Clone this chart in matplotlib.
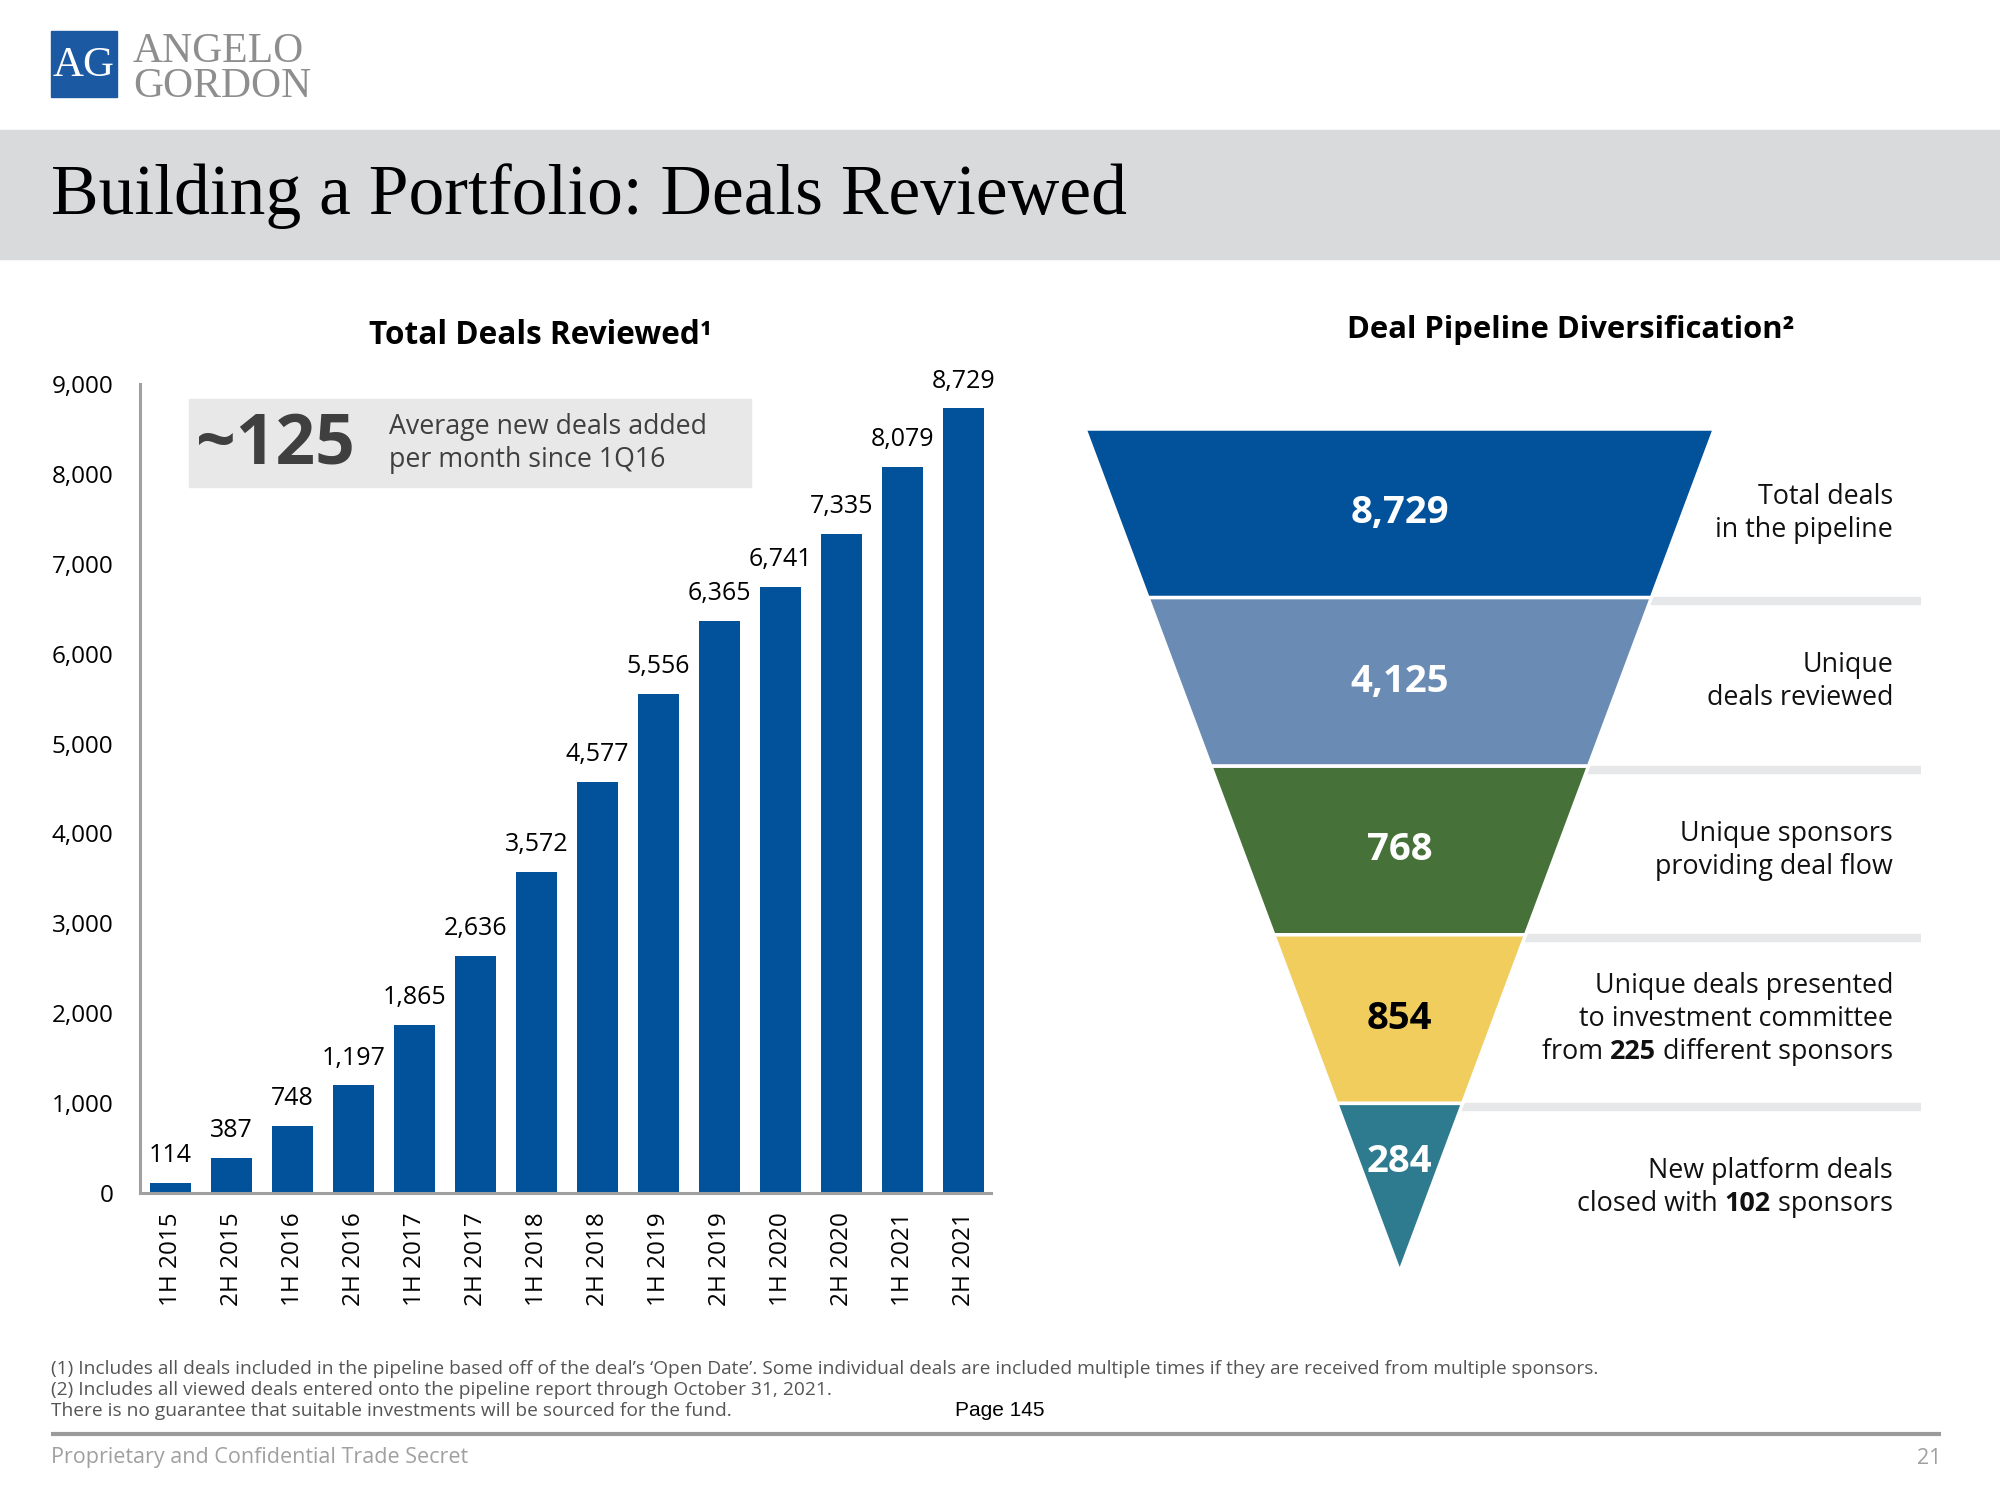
import matplotlib
matplotlib.use("Agg")
import matplotlib.pyplot as plt
from matplotlib.patches import Rectangle, Polygon
from matplotlib.ticker import FuncFormatter
from matplotlib.transforms import IdentityTransform

plt.rcParams['font.family'] = ['Open Sans', 'DejaVu Sans']

# bar chart data
periods = ['1H 2015', '2H 2015', '1H 2016', '2H 2016', '1H 2017', '2H 2017', '1H 2018',
           '2H 2018', '1H 2019', '2H 2019', '1H 2020', '2H 2020', '1H 2021', '2H 2021']
deals = [114, 387, 748, 1197, 1865, 2636, 3572, 4577, 5556, 6365, 6741, 7335, 8079, 8729]

# funnel data
stage_values = [8729, 4125, 768, 854, 284]
stage_colors = ['#02529B', '#6A8BB3', '#467239', '#F0CD5D', '#2E7B90']
stage_text_colors = ['white', 'white', 'white', 'black', 'white']
stage_desc = [
    [[('Total deals', 'normal')], [('in the pipeline', 'normal')]],
    [[('Unique', 'normal')], [('deals reviewed', 'normal')]],
    [[('Unique sponsors', 'normal')], [('providing deal flow', 'normal')]],
    [[('Unique deals presented', 'normal')], [('to investment committee', 'normal')],
     [('from ', 'normal'), ('225', 'bold'), (' different sponsors', 'normal')]],
    [[('New platform deals', 'normal')],
     [('closed with ', 'normal'), ('102', 'bold'), (' sponsors', 'normal')]],
]

footnotes = [
    "(1) Includes all deals included in the pipeline based off of the deal\u2019s \u2018Open Date\u2019. "
    "Some individual deals are included multiple times if they are received from multiple sponsors.",
    "(2) Includes all viewed deals entered onto the pipeline report through October 31, 2021.",
    "There is no guarantee that suitable investments will be sourced for the fund.",
]

fig = plt.figure(figsize=(20, 15), dpi=100)

# background / page decoration in pixel coordinates
bg = fig.add_axes([0, 0, 1, 1])
bg.set_xlim(0, 2000)
bg.set_ylim(1500, 0)
bg.axis('off')

# logo
bg.add_patch(Rectangle((51, 31), 66, 66, color='#1B59A3'))
bg.text(84, 66, 'AG', color='white', fontsize=31, family='Liberation Serif',
        ha='center', va='center')
bg.text(133, 62, 'ANGELO', color='#8E8E8E', fontsize=30, family='Liberation Serif',
        ha='left', va='baseline')
bg.text(133, 97, 'GORDON', color='#8E8E8E', fontsize=30, family='Liberation Serif',
        ha='left', va='baseline')

# title band
bg.add_patch(Rectangle((0, 130), 2000, 129, color='#D9DADB'))
bg.text(51, 214, 'Building a Portfolio: Deals Reviewed', fontsize=51.5,
        family='Liberation Serif', color='black', ha='left', va='baseline')

# chart titles
bg.text(540, 335, 'Total Deals Reviewed\u00b9', fontsize=22.7, fontweight='bold',
        ha='center', va='center')
bg.text(1571, 330, 'Deal Pipeline Diversification\u00b2', fontsize=22.3, fontweight='bold',
        ha='center', va='center')

# callout box
bg.add_patch(Rectangle((189, 399), 562, 88, color='#E8E8E8'))
bg.text(196, 445, '~125', fontsize=50, fontweight='bold', color='#3F3F3F',
        ha='left', va='center')
bg.text(389, 427, 'Average new deals added', fontsize=19.3, color='#3F3F3F',
        ha='left', va='center')
bg.text(389, 460, 'per month since 1Q16', fontsize=19.3, color='#3F3F3F',
        ha='left', va='center')

# footnotes and footer
for i, line in enumerate(footnotes):
    bg.text(51, 1369 + i * 21, line, fontsize=13.8, color='#555555',
            ha='left', va='center')
bg.text(1000, 1411, 'Page 145', fontsize=15, family='Liberation Sans',
        color='black', ha='center', va='center')
bg.plot([51, 1941], [1434, 1434], color='#9A9A9A', lw=3, solid_capstyle='butt')
bg.text(51, 1458, 'Proprietary and Confidential Trade Secret', fontsize=15.5,
        color='#A0A0A0', ha='left', va='center')
bg.text(1941, 1458, '21', fontsize=15.5, color='#A0A0A0', ha='right', va='center')

# bar chart
ax = fig.add_axes([0.07, 0.2047, 0.4255, 0.5393])
ax.patch.set_visible(False)
x = range(len(periods))
ax.bar(x, deals, width=0.67, color='#02529B', zorder=2)
for xi, v in zip(x, deals):
    ax.annotate(f'{v:,}', (xi, v), xytext=(0, 15), textcoords='offset points',
                ha='center', va='baseline', fontsize=18, color='black')
ax.set_xlim(-0.5, 13.45)
ax.set_ylim(0, 9000)
ax.set_yticks(range(0, 9001, 1000))
ax.yaxis.set_major_formatter(FuncFormatter(lambda v, p: f'{int(v):,}'))
ax.set_xticks(list(x))
ax.set_xticklabels(periods, rotation=90, fontsize=17.5)
ax.tick_params(axis='y', length=0, pad=19, labelsize=17.5)
ax.tick_params(axis='x', length=0, pad=14)
for s in ['top', 'right']:
    ax.spines[s].set_visible(False)
for s in ['left', 'bottom']:
    ax.spines[s].set_color('#A0A0A0')
    ax.spines[s].set_linewidth(2.2)

# funnel: triangle split into equal-height bands, top half-width = 1
n = len(stage_values)
fax = fig.add_axes([1085 / 2000, 1 - 1272 / 1500, (1921 - 1085) / 2000, (1272 - 429) / 1500])
fax.set_xlim(-1, (1921 - 1400) / 314.5)
fax.set_ylim(n, 0)
fax.axis('off')

def half_width(y):
    return (n - y) / n

for i in range(1, n):
    fax.plot([0, 2], [i + 0.02, i + 0.02], color='#E6E7E8', lw=6, zorder=1,
             solid_capstyle='butt')

for i, (val, col, tcol) in enumerate(zip(stage_values, stage_colors, stage_text_colors)):
    w0, w1 = half_width(i), half_width(i + 1)
    fax.add_patch(Polygon([(-w0, i), (w0, i), (w1, i + 1), (-w1, i + 1)],
                          closed=True, facecolor=col, edgecolor='white', lw=2.5, zorder=2))
    ty = i + 0.5 if i < n - 1 else i + 0.35
    fax.text(0, ty, f'{val:,}', color=tcol, fontsize=27.5, fontweight='bold',
             ha='center', va='center', zorder=3)

# right-aligned descriptions with bold runs
fig.canvas.draw()
renderer = fig.canvas.get_renderer()
line_h = 33
desc_x = (1893 - 1400) / 314.5
for i, lines in enumerate(stage_desc):
    cx, cy = fax.transData.transform((desc_x, i + 0.5))
    nl = len(lines)
    for j, parts in enumerate(lines):
        ypix = cy + ((nl - 1) / 2 - j) * line_h
        xpix = cx
        for s, wgt in reversed(parts):
            t = fig.text(xpix, ypix, s, transform=IdentityTransform(), fontsize=19.4,
                         fontweight=wgt, color='#111111', ha='right', va='center')
            bb = t.get_window_extent(renderer)
            xpix -= bb.width

fig.savefig('out.png', dpi=100)
